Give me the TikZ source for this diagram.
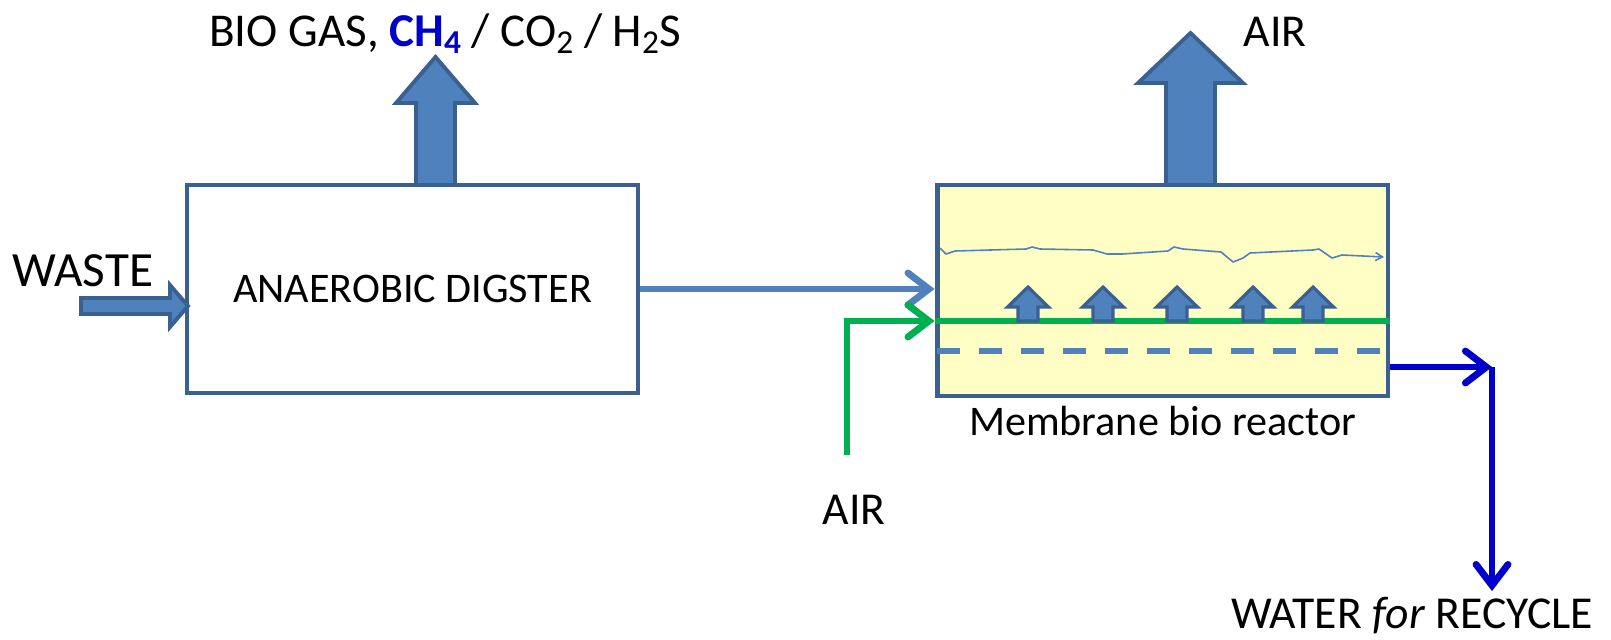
\documentclass[tikz,border=0pt]{standalone}
\usepackage{fontspec}
\setmainfont{Carlito}
\usepackage{xcolor}
\usepackage{tikz}
\usetikzlibrary{arrows.meta, positioning, calc}

\definecolor{boxblue}{HTML}{4F81BD}
\definecolor{edgeblue}{HTML}{3A6090}
\definecolor{airgreen}{HTML}{00B050}
\definecolor{waterblue}{HTML}{0000CC}
\definecolor{tankfill}{HTML}{FFFFC5}

\newcommand{\lowsub}[1]{\raisebox{-0.35ex}{\fontsize{19}{20}\selectfont #1}}

\begin{document}
\begin{tikzpicture}[x=0.02cm, y=-0.02cm,
  unit/.style={draw=edgeblue, line width=2.2pt, minimum width=9.02cm,
               inner sep=0pt, font=\fontsize{24}{28}\selectfont},
  lbl/.style={font=\fontsize{26}{30}\selectfont, anchor=base, inner sep=0pt},
  bigarrow/.style={draw=edgeblue, fill=boxblue, line width=2.2pt},
  flow/.style={boxblue, line width=3.9pt,
    -{Straight Barb[length=0.42cm, width=0.64cm, line cap=round]}},
  airflow/.style={flow, airgreen},
  outflow/.style={flow, waterblue},
  membrane/.style={airgreen, line width=3pt},
  filter/.style={boxblue, line width=3.4pt, dash pattern=on 0.46cm off 0.38cm},
  ripple/.style={boxblue, line width=0.9pt, line join=round,
    -{Straight Barb[length=0.14cm, width=0.16cm]}},
]
  \useasboundingbox (0,0) rectangle (1611,639);

  % === Units ===
  \node[unit, fill=white, minimum height=4.16cm] (dig) at (412.5,289)
    {ANAEROBIC DIGSTER};
  \node[unit, fill=tankfill, line width=2.8pt, minimum height=4.22cm] (mbr)
    at (1162.5,290.5) {};
  \node[font=\fontsize{24}{28}\selectfont, inner sep=1pt, below=3pt of mbr]
    (mbrlbl) {Membrane bio reactor};

  % === Labels ===
  \node[lbl, font=\fontsize{28}{32}\selectfont] (waste) at (83,286) {WASTE};
  \node[lbl, font=\fontsize{26.8}{32}\selectfont] (gas) at (445,46)
    {BIO GAS, \textcolor{waterblue}{\textbf{CH\lowsub{4}}}
     / CO\lowsub{2} / H\lowsub{2}S};
  \node[lbl] (airout) at (1275,46) {AIR};
  \node[lbl] (airin) at (854,524) {AIR};
  \node[lbl] (wat) at (1412,628) {WATER \textit{for} RECYCLE};

  % === Block arrows ===
  \draw[bigarrow] (81,298) -- (170,298) -- (170,285) -- (188,306)
    -- (170,327) -- (170,314) -- (81,314) -- cycle;
  \draw[bigarrow] (416,185) -- (416,103) -- (396,103) -- (435.5,57)
    -- (475,103) -- (455,103) -- (455,185) -- cycle;
  \draw[bigarrow] (1166,185) -- (1166,83) -- (1138,83) -- (1190.5,33)
    -- (1243,83) -- (1215,83) -- (1215,185) -- cycle;

  % === Inside the reactor ===
  \coordinate (memL) at ($(mbr.west)+(0,30.5)$);
  \draw[membrane] (memL) -- (memL -| mbr.east);
  \draw[filter] ($(mbr.west)+(2,60.5)$) -- ($(mbr.east)+(-6,60.5)$);
  \foreach \x in {1028,1103,1177,1253,1313}
    \draw[bigarrow, line width=1.8pt] (\x-10,321) -- (\x-10,307)
      -- (\x-20.5,307) -- (\x,287) -- (\x+20.5,307) -- (\x+10,307)
      -- (\x+10,321) -- cycle;
  \draw[ripple] (940,248) -- (946,254) -- (955,251) -- (1026,249)
    -- (1032,247) -- (1040,249) -- (1093,250) -- (1107,254) -- (1122,254)
    -- (1168,251) -- (1174,247) -- (1183,249) -- (1221,252) -- (1233,262)
    -- (1243,258) -- (1250,253) -- (1313,250) -- (1319,249) -- (1332,258)
    -- (1342,255) -- (1384,257);

  % === Connectors ===
  \draw[flow] (dig.east) -- (dig.east -| mbr.west);

  \coordinate (airsrc) at (847,455);
  \draw[airflow] (airsrc) |- (memL);

  \coordinate (bend) at (1492,367);
  \draw[outflow] (mbr.east |- bend) -- (bend);
  \draw[outflow, shorten >=3pt] (bend) -- (bend |- wat.north);

\end{tikzpicture}
\end{document}
